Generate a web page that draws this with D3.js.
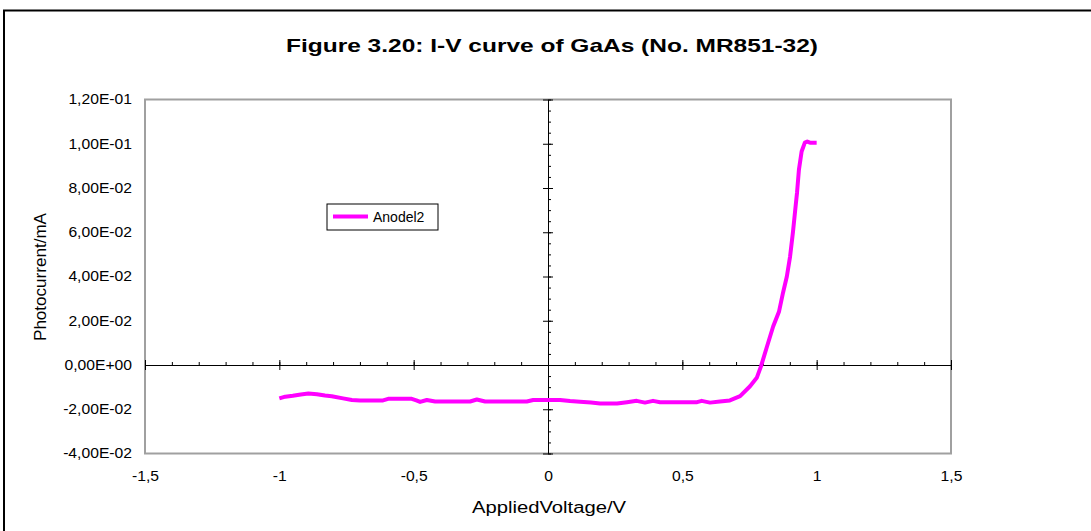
<!DOCTYPE html>
<html>
<head>
<meta charset="utf-8">
<script src="https://cdn.jsdelivr.net/npm/d3@7"></script>
<style>
  html, body { margin: 0; padding: 0; background: #fff; }
  svg { display: block; font-family: "Liberation Sans", Arial, sans-serif; }
</style>
</head>
<body>
<svg id="chart" width="1091" height="531"></svg>
<script>
// I-V measurement, photocurrent of the GaAs sample (series "Anodel2")
const voltage = [
  -1.000, -0.978, -0.950, -0.920, -0.892, -0.860, -0.830, -0.805, -0.763, -0.730,
  -0.700, -0.614, -0.595, -0.507, -0.490, -0.476, -0.451, -0.420, -0.290, -0.265,
  -0.234, -0.079, -0.055, 0.045, 0.082, 0.119, 0.160, 0.194, 0.257, 0.294,
  0.330, 0.361, 0.391, 0.417, 0.555, 0.572, 0.603, 0.640, 0.677, 0.715,
  0.752, 0.777, 0.793, 0.814, 0.838, 0.860, 0.875, 0.889, 0.901, 0.912,
  0.923, 0.927, 0.934, 0.944, 0.956, 0.965, 0.975, 1.000
];
const current = [
  -0.0151, -0.0143, -0.0139, -0.0133, -0.0129, -0.0132, -0.0138, -0.0141, -0.0151, -0.0158,
  -0.0160, -0.0160, -0.0153, -0.0153, -0.0160, -0.0167, -0.0158, -0.0165, -0.0165, -0.0156,
  -0.0165, -0.0165, -0.0158, -0.0158, -0.0163, -0.0166, -0.0170, -0.0174, -0.0174, -0.0168,
  -0.0162, -0.0170, -0.0162, -0.0168, -0.0168, -0.0162, -0.0170, -0.0165, -0.0160, -0.0141,
  -0.0096, -0.0058, -0.0005, 0.0079, 0.0174, 0.0242, 0.0328, 0.0400, 0.0490, 0.0603,
  0.0734, 0.0780, 0.0883, 0.0965, 0.1005, 0.1010, 0.1005, 0.1005
];
const seriesName = "Anodel2";
const xTicks = [-1.5, -1, -0.5, 0, 0.5, 1, 1.5];
const yTicks = [-0.04, -0.02, 0, 0.02, 0.04, 0.06, 0.08, 0.10, 0.12];
const titleText = "Figure 3.20: I-V curve of GaAs (No. MR851-32)";
const xTitle = "AppliedVoltage/V";
const yTitle = "Photocurrent/mA";

const svg = d3.select("#chart");
const plot = { left: 145, right: 951, top: 99.5, bottom: 453.5 };

const x = d3.scaleLinear().domain([-1.5, 1.5]).range([plot.left, plot.right]);
const y = d3.scaleLinear().domain([-0.04, 0.12]).range([plot.bottom, plot.top]);

// comma decimal formats
const fmtX = v => String(v).replace(".", ",");
const fmtY = v => {
  if (v === 0) return "0,00E+00";
  const exp = Math.floor(Math.log10(Math.abs(v)) + 1e-9);
  const mant = v / Math.pow(10, exp);
  const sign = exp < 0 ? "-" : "+";
  return mant.toFixed(2).replace(".", ",") + "E" + sign + String(Math.abs(exp)).padStart(2, "0");
};

// outer chart border
svg.append("rect")
  .attr("x", 4).attr("y", 10.5).attr("width", 1200).attr("height", 700)
  .attr("fill", "none").attr("stroke", "#000").attr("stroke-width", 2);

// title (wide Arial rendering)
svg.append("text")
  .attr("x", 552).attr("y", 52)
  .attr("text-anchor", "middle")
  .attr("font-size", 19).attr("font-weight", "bold")
  .attr("textLength", 532).attr("lengthAdjust", "spacingAndGlyphs")
  .text(titleText);

// plot area frame
svg.append("rect")
  .attr("x", plot.left).attr("y", plot.top)
  .attr("width", plot.right - plot.left).attr("height", plot.bottom - plot.top)
  .attr("fill", "none").attr("stroke", "#a0a0a0").attr("stroke-width", 2);

// tick labels along plot edges
const yLab = svg.append("g").attr("transform", `translate(${plot.left - 13},0)`)
  .call(d3.axisLeft(y).tickValues(yTicks).tickFormat(fmtY).tickSize(0).tickPadding(0));
yLab.select(".domain").remove();
yLab.selectAll("text").attr("font-size", 14).attr("fill", "#000").attr("font-family", null)
  .attr("transform", "scale(1.12,1)");

const xLab = svg.append("g").attr("transform", `translate(0,${plot.bottom + 18})`)
  .call(d3.axisBottom(x).tickValues(xTicks).tickFormat(fmtX).tickSize(0).tickPadding(0));
xLab.select(".domain").remove();
xLab.selectAll("text").attr("font-size", 14).attr("fill", "#000").attr("font-family", null)
  .attr("transform", "scale(1.12,1)");

// crossing axes through the origin
const y0 = y(0), x0 = x(0);
const xMinor = d3.range(-15, 16).map(i => i / 10);
const yMinor = d3.range(-8, 25).map(i => i * 0.005);

function crossAxis(g) {
  g.selectAll(".tick text").remove();
  g.selectAll("line").attr("stroke", "#000");
  g.select(".domain").attr("stroke", "#000");
}
svg.append("g").attr("transform", `translate(0,${y0})`)
  .call(d3.axisTop(x).tickValues(xMinor).tickSize(3).tickSizeOuter(0)).call(crossAxis);
svg.append("g").attr("transform", `translate(0,${y0})`)
  .call(d3.axisTop(x).tickValues(xTicks).tickSize(5).tickSizeOuter(0)).call(crossAxis);
svg.append("g").attr("transform", `translate(0,${y0})`)
  .call(d3.axisBottom(x).tickValues(xTicks).tickSize(5).tickSizeOuter(0)).call(crossAxis);

svg.append("g").attr("transform", `translate(${x0},0)`)
  .call(d3.axisRight(y).tickValues(yMinor).tickSize(3).tickSizeOuter(0)).call(crossAxis);
svg.append("g").attr("transform", `translate(${x0},0)`)
  .call(d3.axisRight(y).tickValues(yTicks).tickSize(5).tickSizeOuter(0)).call(crossAxis);
svg.append("g").attr("transform", `translate(${x0},0)`)
  .call(d3.axisLeft(y).tickValues(yTicks).tickSize(5).tickSizeOuter(0)).call(crossAxis);

// series line
const pts = voltage.map((v, i) => [v, current[i]]);
svg.append("path")
  .datum(pts)
  .attr("fill", "none")
  .attr("stroke", "#ff00ff")
  .attr("stroke-width", 4)
  .attr("stroke-linejoin", "round")
  .attr("d", d3.line().x(d => x(d[0])).y(d => y(d[1])));

// axis titles
svg.append("text")
  .attr("x", 549).attr("y", 513)
  .attr("text-anchor", "middle").attr("font-size", 16)
  .attr("textLength", 154).attr("lengthAdjust", "spacingAndGlyphs")
  .text(xTitle);
svg.append("text")
  .attr("transform", "translate(46,277) rotate(-90)")
  .attr("text-anchor", "middle").attr("font-size", 16)
  .attr("textLength", 128).attr("lengthAdjust", "spacingAndGlyphs")
  .text(yTitle);

// legend
const leg = svg.append("g").attr("transform", "translate(327,204)");
leg.append("rect").attr("x", 0).attr("y", 0).attr("width", 111).attr("height", 26)
  .attr("fill", "#fff").attr("stroke", "#000").attr("stroke-width", 1);
leg.append("line").attr("x1", 6).attr("x2", 41).attr("y1", 12.5).attr("y2", 12.5)
  .attr("stroke", "#ff00ff").attr("stroke-width", 4);
leg.append("text").attr("x", 46).attr("y", 18).attr("font-size", 14).text(seriesName);
</script>
</body>
</html>
